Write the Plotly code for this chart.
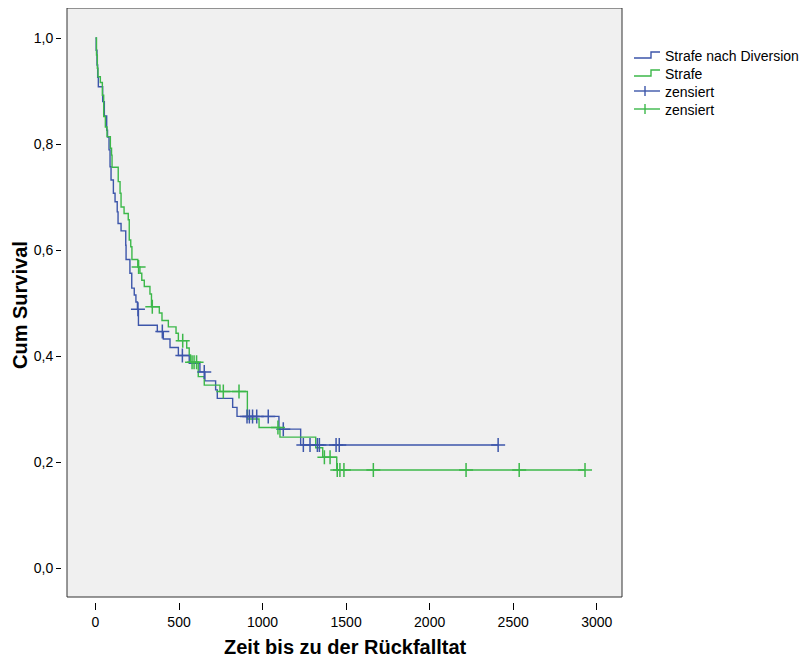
import numpy as np
import plotly.graph_objects as go

# ---- data ----
# Strafe nach Diversion (blue): event times and survival after each drop
div_times = [0, 4, 9, 13, 17, 43, 53, 67, 72, 81, 87, 93, 107, 117, 130, 135, 153, 181, 183,
             206, 217, 232, 242, 251, 257, 370, 406, 446, 496, 561, 625, 655, 719, 729, 821,
             847, 1098, 1228]
div_surv = [1.0, 0.977, 0.949, 0.926, 0.908, 0.880, 0.853, 0.826, 0.813, 0.789, 0.757, 0.732,
            0.707, 0.691, 0.672, 0.650, 0.636, 0.609, 0.582, 0.556, 0.528, 0.515, 0.502, 0.488,
            0.458, 0.446, 0.432, 0.416, 0.401, 0.386, 0.370, 0.353, 0.336, 0.320, 0.303, 0.286,
            0.262, 0.232]
div_censored = [254, 400, 520, 651, 907, 921, 940, 965, 1034, 1124, 1244, 1284, 1328, 1340,
                1440, 1459, 2410]

# Strafe (green)
str_times = [0, 6, 11, 15, 29, 41, 49, 59, 69, 89, 96, 99, 136, 147, 153, 171, 196, 202, 211,
             218, 253, 266, 277, 292, 326, 335, 382, 398, 436, 482, 496, 546, 561, 569, 615,
             651, 745, 909, 979, 1104, 1318, 1360, 1444]
str_surv = [1.0, 0.968, 0.943, 0.927, 0.916, 0.892, 0.852, 0.832, 0.814, 0.792, 0.779, 0.756,
            0.729, 0.707, 0.681, 0.669, 0.657, 0.619, 0.606, 0.582, 0.568, 0.556, 0.543, 0.531,
            0.517, 0.493, 0.481, 0.467, 0.455, 0.443, 0.429, 0.415, 0.402, 0.388, 0.361, 0.345,
            0.333, 0.281, 0.265, 0.247, 0.227, 0.209, 0.185]
str_censored = [258, 340, 522, 578, 590, 605, 765, 859, 1092, 1370, 1404, 1447, 1463, 1487,
                1663, 2218, 2536, 2930]

group_names = ["Strafe nach Diversion", "Strafe"]
censor_name = "zensiert"
y_tickvals = [0.0, 0.2, 0.4, 0.6, 0.8, 1.0]
y_ticktext = ["0,0", "0,2", "0,4", "0,6", "0,8", "1,0"]
x_tickvals = [0, 500, 1000, 1500, 2000, 2500, 3000]
x_title = "Zeit bis zu der Rückfalltat"
y_title = "Cum Survival"

BLUE = "#3d56aa"
GREEN = "#3cb84a"
FONT = "Liberation Sans, Arial, sans-serif"


def step_curve(times, surv, censored):
    t = np.array(times, dtype=float)
    s = np.array(surv, dtype=float)
    end = max(max(censored), t[-1])
    xs = np.append(t, end)
    ys = np.append(s, s[-1])
    c = np.array(censored, dtype=float)
    idx = np.searchsorted(t, c, side="right") - 1
    cs = s[idx]
    return xs, ys, c, cs


fig = go.Figure()
curves = [(div_times, div_surv, div_censored, BLUE), (str_times, str_surv, str_censored, GREEN)]
for name, (tt, ss, cc, col) in zip(group_names, curves):
    xs, ys, cx, cy = step_curve(tt, ss, cc)
    fig.add_trace(go.Scatter(x=xs, y=ys, mode="lines", line=dict(color=col, width=1.4, shape="hv"),
                             name=name, showlegend=False))
for (tt, ss, cc, col) in curves:
    xs, ys, cx, cy = step_curve(tt, ss, cc)
    fig.add_trace(go.Scatter(x=cx, y=cy, mode="markers", name=censor_name, showlegend=False,
                             marker=dict(symbol="cross-thin", size=10, color=col,
                                         line=dict(color=col, width=1.5))))

# plot geometry (pixels in the browser window); the page body adds an 8px offset
OFF = 8
W, H = 810 - OFF, 659 - OFF
L, R, T, B = 62 - OFF, 622 - OFF, 8 - OFF, 602 - OFF
px_per_unit = 0.16707
x0_px = 95.5 - OFF
xr = [-(x0_px - L) / px_per_unit, (R - x0_px) / px_per_unit]
y1_px, y0_px = 38 - OFF, 568 - OFF
spu = (y0_px - y1_px)
yr = [-(B - y0_px) / spu, 1 + (y1_px - T) / spu]


def px(xp):
    return (xp - OFF - L) / (R - L)


def py(yp):
    return (B - (yp - OFF)) / (B - T)


shapes = [dict(type="rect", xref="paper", yref="paper",
               x0=px(67), x1=1.0, y0=py(597), y1=1.0,
               line=dict(color="#333333", width=1), fillcolor="#f0f0f0", layer="below")]
annotations = []

# custom legend (step icons for curves, crosses for censored)
legend_rows = [(group_names[0], BLUE, "step", 55.5), (group_names[1], GREEN, "step", 73.5),
               (censor_name, BLUE, "cross", 92), (censor_name, GREEN, "cross", 110)]
for label, col, kind, yc in legend_rows:
    if kind == "step":
        path = "M {a},{b} L {c},{b} L {c},{d} L {e},{d}".format(
            a=px(634), b=py(yc + 2.5), c=px(651), d=py(yc - 3.5), e=px(660))
        shapes.append(dict(type="path", xref="paper", yref="paper", path=path,
                           line=dict(color=col, width=1.4)))
    else:
        shapes.append(dict(type="line", xref="paper", yref="paper", x0=px(634), x1=px(660),
                           y0=py(yc - 1), y1=py(yc - 1), line=dict(color=col, width=1.4)))
        shapes.append(dict(type="line", xref="paper", yref="paper", x0=px(645), x1=px(645),
                           y0=py(yc - 6), y1=py(yc + 4), line=dict(color=col, width=1.4)))
    annotations.append(dict(text=label, xref="paper", yref="paper", x=px(663), y=py(yc),
                            xanchor="left", yanchor="middle", showarrow=False,
                            font=dict(family=FONT, size=14, color="black")))

annotations.append(dict(text="<b>" + x_title + "</b>", xref="paper", yref="paper",
                        x=px(345), y=py(647), xanchor="center", yanchor="middle",
                        showarrow=False, font=dict(family=FONT, size=20, color="black")))
annotations.append(dict(text="<b>" + y_title + "</b>", xref="paper", yref="paper",
                        x=px(20), y=py(305), xanchor="center", yanchor="middle", textangle=-90,
                        showarrow=False, font=dict(family=FONT, size=20, color="black")))

fig.update_layout(
    width=W, height=H,
    margin=dict(l=L, r=W - R, t=T, b=H - B, pad=0),
    paper_bgcolor="white",
    plot_bgcolor="rgba(0,0,0,0)",
    font=dict(family=FONT, size=14, color="black"),
    showlegend=False,
    xaxis=dict(range=xr, tickvals=x_tickvals, ticks="outside", ticklen=7, tickcolor="black",
               showgrid=False, zeroline=False, showline=False, automargin=False,
               tickfont=dict(size=14)),
    yaxis=dict(range=yr, tickvals=y_tickvals, ticktext=y_ticktext, ticks="outside", ticklen=5,
               tickcolor="black", showgrid=False, zeroline=False, showline=False,
               automargin=False, tickfont=dict(size=14)),
    shapes=shapes,
    annotations=annotations,
)

fig.write_html("out.html")
